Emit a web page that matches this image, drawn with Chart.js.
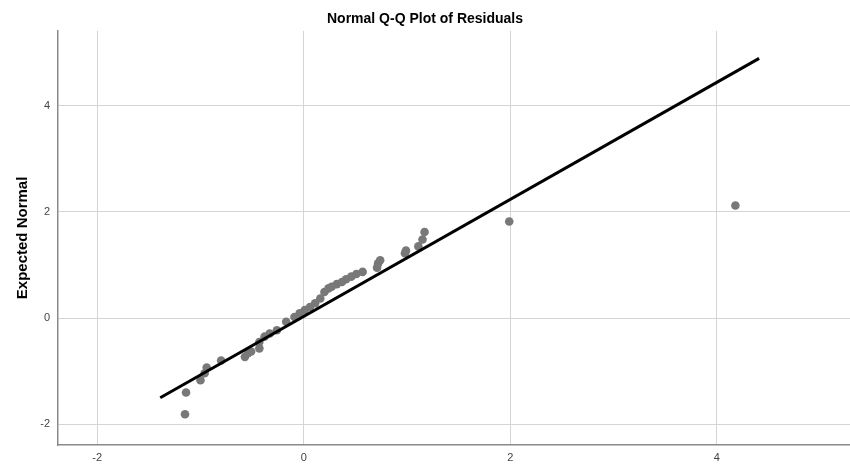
<!DOCTYPE html>
<html>
<head>
<meta charset="utf-8">
<title>Normal Q-Q Plot of Residuals</title>
<script src="https://cdn.jsdelivr.net/npm/chart.js@4/dist/chart.umd.min.js"></script>
<style>
    html, body { margin: 0; padding: 0; background: #fff; }
    #wrap { width: 850px; height: 466px; position: relative; }
</style>
</head>
<body>
<div id="wrap"><canvas id="qqChart"></canvas></div>
<script>
// observed residual (x) vs expected normal (y)
const residX = [-1.15, -1.14, -1.00, -0.96, -0.94, -0.80, -0.57, -0.54, -0.51, -0.43,
    -0.43, -0.38, -0.33, -0.26, -0.17, -0.09, -0.04, 0.01, 0.06, 0.11,
    0.16, 0.20, 0.24, 0.27, 0.32, 0.37, 0.41, 0.46, 0.51, 0.57,
    0.71, 0.72, 0.74, 0.98, 0.99, 1.11, 1.15, 1.17, 1.99, 4.18];
const expectedY = [-1.81, -1.40, -1.17, -1.04, -0.93, -0.80, -0.73, -0.66, -0.63, -0.57,
    -0.45, -0.35, -0.29, -0.23, -0.07, 0.02, 0.09, 0.15, 0.21, 0.28,
    0.37, 0.49, 0.56, 0.59, 0.64, 0.68, 0.73, 0.78, 0.83, 0.87,
    0.95, 1.03, 1.09, 1.22, 1.27, 1.35, 1.48, 1.62, 1.82, 2.12];

// reference line end points
const lineX = [-1.39, 4.41];
const lineY = [-1.50, 4.89];

const xTicks = [-2, 0, 2, 4];
const yTicks = [-2, 0, 2, 4];

const pointData = residX.map((x, i) => ({ x: x, y: expectedY[i] }));
const lineData = lineX.map((x, i) => ({ x: x, y: lineY[i] }));

const tickFont = { family: 'Liberation Sans', size: 11 };

const ctx = document.getElementById('qqChart').getContext('2d');
new Chart(ctx, {
    type: 'scatter',
    data: {
        datasets: [
            {
                label: 'Fit',
                data: lineData,
                showLine: true,
                borderColor: '#000',
                borderWidth: 3,
                pointRadius: 0,
                order: 0
            },
            {
                label: 'Residuals',
                data: pointData,
                backgroundColor: '#787878',
                borderWidth: 0,
                pointRadius: 4.3,
                order: 1
            }
        ]
    },
    options: {
        responsive: true,
        maintainAspectRatio: false,
        animation: false,
        layout: { padding: 0, autoPadding: false },
        plugins: {
            legend: { display: false },
            tooltip: { enabled: false },
            title: {
                display: true,
                text: 'Normal Q-Q Plot of Residuals',
                color: '#000',
                font: { family: 'Liberation Sans', size: 14, weight: 'bold' },
                padding: { top: 11, bottom: 3 }
            }
        },
        scales: {
            x: {
                type: 'linear',
                min: -2.38,
                max: 5.29,
                afterBuildTicks: (scale) => { scale.ticks = xTicks.map(v => ({ value: v })); },
                afterFit: (scale) => {
                    scale.height = 21;
                    scale.paddingRight = 0;
                    scale.paddingLeft = 0;
                },
                grid: { color: '#d4d4d4', drawTicks: false },
                border: { color: '#8a8a8a', width: 1.5 },
                ticks: { color: '#444', font: tickFont, padding: 6 }
            },
            y: {
                type: 'linear',
                min: -2.39,
                max: 5.41,
                afterBuildTicks: (scale) => { scale.ticks = yTicks.map(v => ({ value: v })); },
                afterFit: (scale) => { scale.width = 58; },
                grid: { color: '#d4d4d4', drawTicks: false },
                border: { color: '#8a8a8a', width: 1.5 },
                ticks: { color: '#444', font: tickFont, padding: 8 },
                title: {
                    display: true,
                    text: 'Expected Normal',
                    color: '#000',
                    font: { family: 'Liberation Sans', size: 15, weight: 'bold' },
                    padding: { top: 14, bottom: 0 }
                }
            }
        }
    }
});
</script>
</body>
</html>
